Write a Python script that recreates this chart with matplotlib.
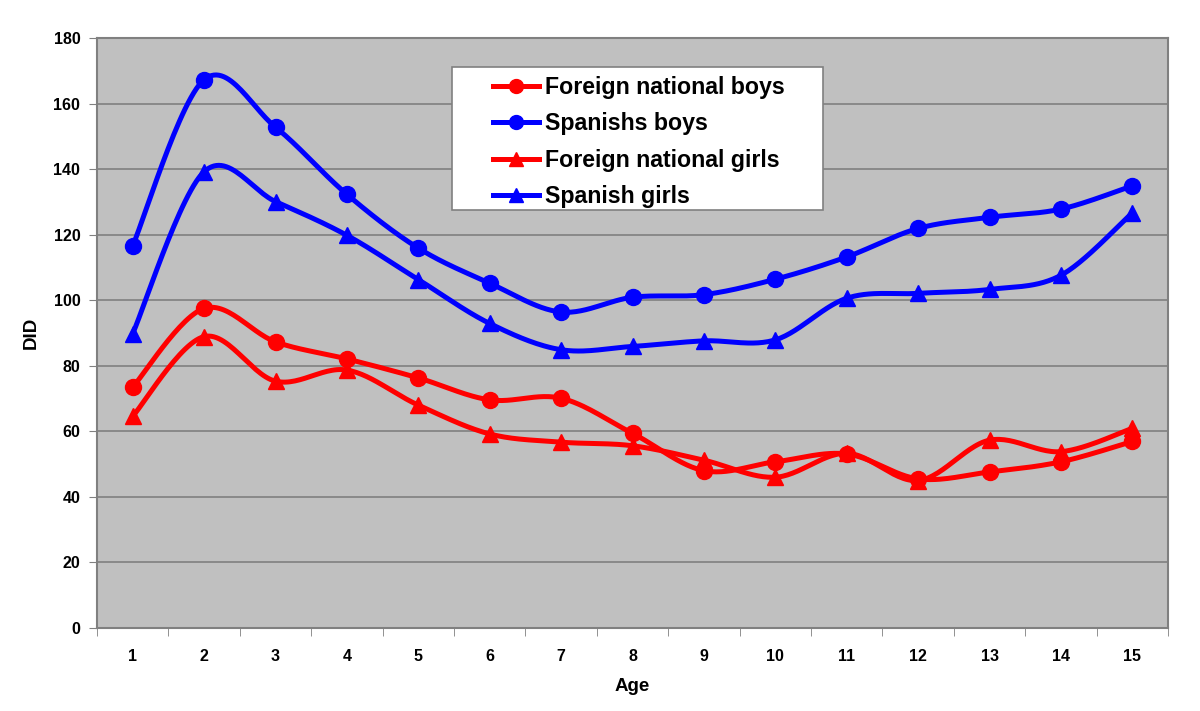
import numpy as np
import matplotlib
matplotlib.use("Agg")
import matplotlib.pyplot as plt
from matplotlib.patches import Rectangle
from matplotlib.lines import Line2D

plt.rcParams['font.family'] = ['Liberation Sans', 'DejaVu Sans']

ages = list(range(1, 16))
foreign_boys = [73.5, 97.5, 87.3, 82.1, 76.3, 69.6, 70.1, 59.4, 48.0, 50.7, 53.1, 45.5, 47.6, 50.7, 56.9]
spanish_boys = [116.6, 167.3, 152.8, 132.3, 115.9, 105.2, 96.4, 100.9, 101.7, 106.4, 113.2, 121.9, 125.3, 127.8, 134.9]
foreign_girls = [64.6, 88.9, 75.3, 78.7, 68.0, 59.2, 56.7, 55.6, 51.2, 46.0, 53.3, 45.0, 57.3, 53.8, 60.9]
spanish_girls = [89.8, 139.2, 130.1, 119.8, 106.3, 92.9, 84.9, 85.9, 87.6, 87.9, 100.6, 102.1, 103.3, 107.6, 126.7]
labels = ["Foreign national boys", "Spanishs boys", "Foreign national girls", "Spanish girls"]
y_ticks = list(range(0, 181, 20))

def smooth(x, y, n=30):
    x = np.asarray(x, float); y = np.asarray(y, float)
    px = np.concatenate([[x[0]], x, [x[-1]]])
    py = np.concatenate([[y[0]], y, [y[-1]]])
    xs, ys = [], []
    t = np.linspace(0, 1, n)
    for i in range(1, len(px) - 2):
        p0 = np.array([px[i], py[i]]); p3 = np.array([px[i + 1], py[i + 1]])
        p1 = p0 + (np.array([px[i + 1], py[i + 1]]) - np.array([px[i - 1], py[i - 1]])) / 6
        p2 = p3 - (np.array([px[i + 2], py[i + 2]]) - np.array([px[i], py[i]])) / 6
        b = ((1 - t) ** 3)[:, None] * p0 + (3 * (1 - t) ** 2 * t)[:, None] * p1 \
            + (3 * (1 - t) * t ** 2)[:, None] * p2 + (t ** 3)[:, None] * p3
        xs.append(b[:, 0]); ys.append(b[:, 1])
    return np.concatenate(xs), np.concatenate(ys)

fig = plt.figure(figsize=(12, 7.11), dpi=100)
ax = fig.add_axes([97 / 1200, 83 / 711, 1071 / 1200, 590 / 711])
ax.set_facecolor("#C0C0C0")

series = [
    (foreign_boys, "#FF0000", "o", 11.5),
    (spanish_boys, "#0000FF", "o", 11.5),
    (foreign_girls, "#FF0000", "^", 12),
    (spanish_girls, "#0000FF", "^", 12),
]
handles = []
for (vals, col, mk, ms), lab in zip(series, labels):
    sx, sy = smooth(ages, vals)
    ax.plot(sx, sy, color=col, lw=3.6, solid_capstyle="round", zorder=3)
    ax.plot(ages, vals, linestyle="none", marker=mk, color=col, ms=ms, zorder=4)
    handles.append(Line2D([], [], color=col, lw=3.6, marker=mk, ms=10))

ax.set_xlim(0.5, 15.5)
ax.set_ylim(0, 180)
ax.set_yticks(y_ticks)
ax.set_xticks(ages)
ax.set_xticks(np.arange(0.5, 16, 1), minor=True)
ax.tick_params(axis="x", which="major", length=0, pad=15)
ax.tick_params(axis="x", which="minor", length=6, color="#808080", direction="out")
ax.tick_params(axis="y", length=6, color="#808080", direction="out", pad=6)
for lab in ax.get_xticklabels() + ax.get_yticklabels():
    lab.set_fontsize(11.5)
    lab.set_fontweight("bold")
ax.yaxis.grid(True, color="#808080", lw=1.2)
ax.set_axisbelow(True)
for s in ax.spines.values():
    s.set_color("#808080")
    s.set_linewidth(1.5)
ax.set_xlabel("Age", fontsize=13.5, fontweight="bold", labelpad=10)
ax.set_ylabel("DID", fontsize=13.5, fontweight="bold", labelpad=10)

x0 = (452 - 97) / 1071; x1 = (823 - 97) / 1071
y0 = (628 - 210) / 590; y1 = (628 - 67) / 590
ax.add_patch(Rectangle((x0, y0), x1 - x0, y1 - y0, transform=ax.transAxes,
                       facecolor="white", edgecolor="#808080", lw=1.2, zorder=5))
leg = ax.legend(handles, labels, loc="upper left", bbox_to_anchor=((493 - 97) / 1071, (628 - 76) / 590),
                frameon=False, prop={"weight": "bold", "size": 16.7}, handlelength=2.0,
                handletextpad=0.26, labelspacing=0.58, borderaxespad=0, borderpad=0)
leg.set_zorder(6)

fig.savefig("out.png", dpi=100)
